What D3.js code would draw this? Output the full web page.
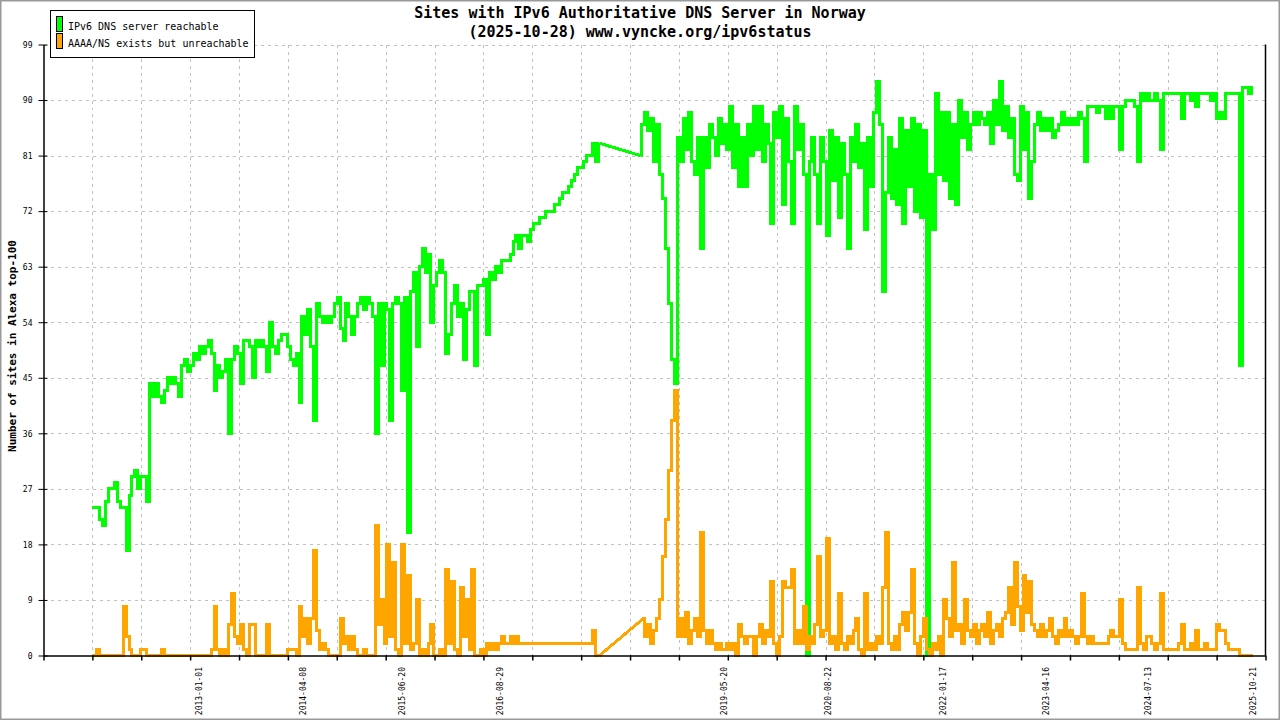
<!DOCTYPE html>
<html lang="en">
<head>
    <meta charset="UTF-8">
    <title>Sites with IPv6 Authoritative DNS Server in Norway</title>
    <script src="https://d3js.org/d3.v7.min.js"></script>
    <style>
        body { margin:0; background:white; }
        svg { display:block; }
        text { font-family: "DejaVu Sans Mono", "Liberation Mono", monospace; fill:black; }
    </style>
</head>
<body>
<svg width="1280" height="720" id="chart"></svg>

<script type="text/javascript">

// one sample every 13 days starting at firstDay
// null = no sample there (the line just joins the neighbours)
var firstDay = "2011-09-19";
var stepDays = 13;

var reachable = [
    24,24,24,22,21,25,27,27,28,25, 24,24,17,26,29,30,27,29,29,25,
    44,42,44,42,41,43,45,44,45,44, 42,47,48,46,47,49,48,50,49,50,
    51,49,43,47,45,46,48,36,48,50,
    49,44,51,51,50,45,51,50,51,50, 46,54,50,49,51,52,52,50,48,47,
    49,41,55,52,56,50,38,57,55,54, 55,54,55,57,58,53,51,57,55,52,
    55,57,58,56,58,57,55,36,57,47,
    57,56,38,57,58,57,43,58,20,59, 62,50,63,66,62,65,54,60,62,64,
    62,49,52,57,60,55,57,48,56,59, 59,47,60,60,61,52,62,61,63,62,
    64,64,64,65,67,68,66,68,68,67,
    69,70,70,71,71,72,72,72,73,73, 74,75,75,76,77,78,79,79,80,81,
    81,83,80,83,null,null,null,null,null,null, null,null,null,null,null,null,null,81,86,88,
    85,87,80,86,78,74,66,57,48,44,
    84,80,87,82,88,80,78,84,66,84, 79,86,84,81,87,83,86,82,89,79,
    86,76,84,76,86,81,89,82,89,80, 86,83,70,88,84,89,73,87,80,70,
    89,82,86,78,0,80,84,78,70,84,
    80,68,85,77,84,71,83,78,66,84, 80,86,79,83,69,84,76,88,93,86,
    59,75,84,74,82,73,87,70,85,76, 87,72,86,71,85,0,78,69,91,78,
    88,77,88,74,86,73,90,84,88,82,
    86,88,86,88,87,86,88,83,90,86, 93,85,89,84,87,78,77,89,82,88,
    74,80,86,88,85,87,85,87,84,85, 86,88,86,87,86,87,86,88,87,80,
    89,89,89,88,89,89,87,89,87,89,
    89,82,89,90,90,90,89,80,91,90, 91,90,90,91,90,82,91,91,91,91,
    91,91,87,91,91,90,91,89,91,91, 91,91,90,91,87,88,87,91,91,91,
    91,91,47,92,92,91,92
];

var unreachable = [
    0,0,1,0,0,0,0,0,0,0, 0,8,3,1,0,0,0,1,1,0,
    0,0,0,0,1,0,0,0,0,0, 0,0,0,0,0,0,0,0,0,0,
    0,1,8,1,0,1,0,5,10,3,
    2,5,1,0,5,5,0,0,0,0, 5,0,0,0,0,0,0,1,1,1,
    0,8,3,6,2,6,17,4,1,2, 1,0,0,0,0,6,2,3,1,3,
    1,0,0,1,0,0,0,21,5,9,
    2,18,3,15,1,0,18,2,13,1, 2,9,0,1,0,2,5,0,0,1,
    0,14,2,12,1,0,11,3,9,1, 14,0,0,1,0,2,1,2,1,2,
    3,2,2,3,2,3,2,2,2,2,
    2,null,null,null,null,null,null,null,null,null, null,null,null,null,null,null,null,null,null,null,
    2,4,0,0,null,null,null,null,null,null, null,null,null,null,null,null,null,null,6,3,
    5,2,4,6,9,16,22,30,38,43,
    3,6,3,7,2,4,6,3,20,4, 2,4,2,1,2,1,1,2,1,2,
    0,5,3,2,3,3,0,3,5,2, 4,3,12,2,0,3,12,11,11,14,
    2,4,2,8,1,3,2,5,16,3,
    4,19,2,3,1,10,2,1,3,2, 4,6,1,0,10,1,2,1,3,2,
    11,20,2,1,3,1,5,7,4,7, 14,2,0,3,6,1,0,2,1,3,
    0,9,6,3,15,4,5,2,9,4,
    3,5,2,4,5,3,7,2,4,5, 3,6,7,11,5,15,8,4,13,7,
    12,5,4,3,5,3,4,6,3,2, 4,3,6,3,4,3,2,3,10,3,
    2,3,2,2,2,2,2,3,4,3,
    3,9,2,1,1,1,1,11,2,1, 3,3,2,1,2,10,1,1,1,1,
    1,2,5,1,1,2,1,4,1,1, 2,1,1,1,5,4,4,2,1,1,
    1,1,0,0,0,0,0
];

var dateLabels = ["2013-01-01", "2014-04-08", "2015-06-20", "2016-08-29", "2019-05-20",
                  "2020-08-22", "2022-01-17", "2023-04-16", "2024-07-13", "2025-10-21"];
var yTicks = [0, 9, 18, 27, 36, 45, 54, 63, 72, 81, 90, 99];
var xDomain = ["2011-02-14", "2025-12-17"];
var xTickCount = 26;

var seriesNames = ["IPv6 DNS server reachable", "AAAA/NS exists but unreachable"];
var seriesColors = ["#00ff00", "#ffa500"];

var parse = d3.utcParse("%Y-%m-%d");
var fmt = d3.utcFormat("%Y-%m-%d");
var svg = d3.select("#chart");

var plotLeft = 43.5, plotRight = 1265.5, plotTop = 44.5, plotBottom = 655.5;

var x = d3.scaleUtc().domain(xDomain.map(parse)).range([plotLeft, plotRight]);
var y = d3.scaleLinear().domain([0, 99]).range([plotBottom, plotTop]);

svg.append("rect").attr("width", 1280).attr("height", 720).attr("fill", "white");

// evenly spaced ticks over the x range, as in the original
var d0 = x.domain()[0], d1 = x.domain()[1];
var xTicks = d3.range(xTickCount).map(function(k) {
    return new Date(+d0 + k * (d1 - d0) / (xTickCount - 1));
});

// grid
var grid = svg.append("g").attr("stroke", "#c0c0c0").attr("stroke-dasharray", "3,4")
    .attr("shape-rendering", "crispEdges");
grid.selectAll("line.v").data(xTicks.slice(1, -1)).join("line").attr("class", "v")
    .attr("x1", function(d) { return Math.round(x(d)) + 0.5; })
    .attr("x2", function(d) { return Math.round(x(d)) + 0.5; })
    .attr("y1", plotTop).attr("y2", plotBottom);
grid.selectAll("line.h").data(yTicks.slice(1)).join("line").attr("class", "h")
    .attr("x1", plotLeft).attr("x2", plotRight)
    .attr("y1", function(d) { return Math.round(y(d)) + 0.5; })
    .attr("y2", function(d) { return Math.round(y(d)) + 0.5; });

// series: runs of samples are drawn as steps, missing stretches are bridged straight
function runs(vals) {
    var base = parse(firstDay), out = [], cur = [];
    vals.forEach(function(v, i) {
        if (v === null) {
            if (cur.length) out.push(cur);
            cur = [];
        } else {
            cur.push({date: d3.utcDay.offset(base, i * stepDays), value: v});
        }
    });
    if (cur.length) out.push(cur);
    return out;
}

var stepLine = d3.line().curve(d3.curveStep)
    .x(function(d) { return x(d.date); })
    .y(function(d) { return y(d.value); });
var straight = d3.line()
    .x(function(d) { return x(d.date); })
    .y(function(d) { return y(d.value); });

[reachable, unreachable].forEach(function(vals, k) {
    var r = runs(vals);
    var g = svg.append("g")
        .attr("fill", "none")
        .attr("stroke", seriesColors[k])
        .attr("stroke-width", 3)
        .attr("stroke-linejoin", "miter")
        .attr("shape-rendering", "crispEdges");
    var bridges = [];
    for (var j = 1; j < r.length; j++) {
        bridges.push([r[j - 1][r[j - 1].length - 1], r[j][0]]);
    }
    g.selectAll("path.bridge").data(bridges).join("path").attr("class", "bridge")
        .attr("d", straight);
    g.selectAll("path.run").data(r).join("path").attr("class", "run")
        .attr("d", stepLine);
});

// axes
var xAxis = svg.append("g").attr("transform", "translate(0," + plotBottom + ")")
    .call(d3.axisBottom(x).tickValues(xTicks).tickSize(5).tickSizeOuter(0).tickFormat(""));
xAxis.select(".domain").attr("stroke-width", 1.5);
xAxis.selectAll(".tick line").attr("stroke-width", 1.5);

var xLabels = svg.append("g").attr("transform", "translate(0,667)")
    .call(d3.axisBottom(x).tickValues(dateLabels.map(parse)).tickSize(0).tickPadding(0).tickFormat(fmt));
xLabels.select(".domain").remove();
xLabels.attr("font-family", null).attr("font-size", 8);
xLabels.selectAll("text")
    .attr("x", 0).attr("y", 0).attr("dy", "0.35em")
    .attr("transform", "rotate(-90)")
    .style("text-anchor", "end");

var yAxis = svg.append("g").attr("transform", "translate(" + plotLeft + ",0)")
    .call(d3.axisLeft(y).tickValues(yTicks).tickSize(5).tickPadding(6).tickSizeOuter(0));
yAxis.attr("font-family", null).attr("font-size", 8);
yAxis.select(".domain").attr("stroke-width", 1.5);
yAxis.selectAll(".tick line").attr("x1", 4).attr("stroke-width", 1);
yAxis.selectAll(".tick text").attr("dy", "0.35em");

svg.append("line").attr("x1", plotRight).attr("x2", plotRight)
    .attr("y1", plotTop).attr("y2", plotBottom)
    .attr("stroke", "black").attr("stroke-width", 1.5);

// titles
svg.append("text").attr("x", 640).attr("y", 18).attr("text-anchor", "middle")
    .attr("font-size", 15).attr("font-weight", "bold")
    .text("Sites with IPv6 Authoritative DNS Server in Norway");
svg.append("text").attr("x", 640).attr("y", 37).attr("text-anchor", "middle")
    .attr("font-size", 15).attr("font-weight", "bold")
    .text("(2025-10-28) www.vyncke.org/ipv6status");
svg.append("text").attr("transform", "translate(16,346) rotate(-90)")
    .attr("text-anchor", "middle").attr("font-size", 11).attr("font-weight", "bold")
    .text("Number of sites in Alexa top-100");

// legend
var legend = svg.append("g");
legend.append("rect").attr("x", 50.5).attr("y", 10.5).attr("width", 204).attr("height", 47)
    .attr("fill", "white").attr("stroke", "black").attr("stroke-width", 1);
seriesNames.forEach(function(name, k) {
    legend.append("rect").attr("x", 56.5).attr("y", 16.5 + k * 17).attr("width", 6).attr("height", 15)
        .attr("fill", seriesColors[k]).attr("stroke", "black").attr("stroke-width", 1);
    legend.append("text").attr("x", 68).attr("y", 29.5 + k * 17)
        .attr("font-size", 10).text(name);
});

// outer frame
svg.append("rect").attr("x", 0).attr("y", 0).attr("width", 1280).attr("height", 720)
    .attr("fill", "none").attr("stroke", "#999999").attr("stroke-width", 3);

</script>
</body>
</html>
